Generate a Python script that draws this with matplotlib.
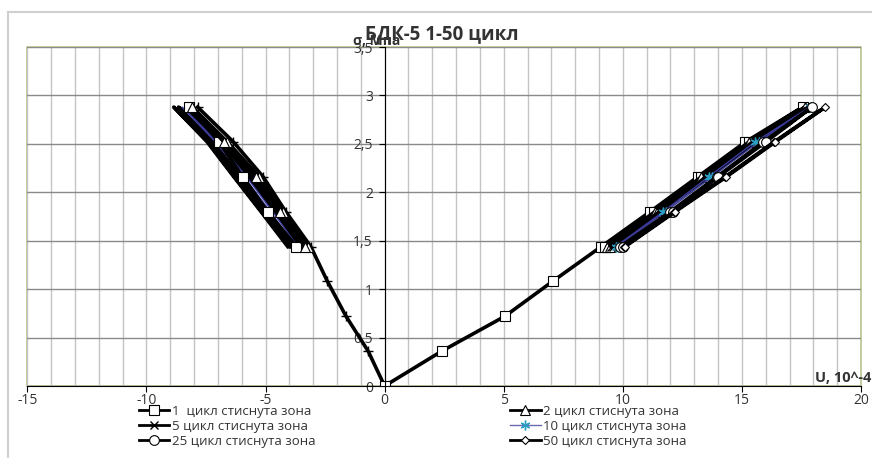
"""BDK-5 cycles 1-50 stress-strain chart"""
import matplotlib
matplotlib.use("Agg")
import matplotlib.pyplot as plt
from matplotlib.ticker import MultipleLocator, FuncFormatter
from matplotlib.patches import Rectangle
from matplotlib.lines import Line2D

plt.rcParams['font.family'] = ['Open Sans', 'DejaVu Sans']
plt.rcParams['axes.unicode_minus'] = False

# stress levels, MPa
s_load = [0, 0.36, 0.72, 1.08, 1.44, 1.8, 2.16, 2.52, 2.88]
s_unload = [2.88, 2.52, 2.16, 1.8, 1.44]
s_loop = [1.44, 1.8, 2.16, 2.52, 2.88, 2.52, 2.16, 1.8, 1.44]

# right branch, strain U (10^-4)
c1_right_x = [0, 2.4, 5.05, 7.05, 9.1, 11.15, 13.15, 15.15, 17.55, 15.3, 13.3, 11.3, 9.25]
c2_right_x = [9.35, 11.35, 13.3, 15.3, 17.65, 15.45, 13.45, 11.45, 9.45]
c5_right_x = [9.5, 11.55, 13.5, 15.45, 17.8, 15.6, 13.6, 11.6, 9.6]
c10_right_x = [9.7, 11.7, 13.6, 15.55, 17.85, 15.7, 13.75, 11.8, 9.8]
c25_right_x = [9.9, 12.0, 13.95, 15.9, 17.95, 16.0, 14.0, 12.1, 10.0]
c50_right_x = [10.05, 12.15, 14.3, 16.35, 18.5, 16.4, 14.35, 12.2, 10.1]

# left branch
c1_left_load_x = [0, -0.69, -1.62, -2.4, -3.1, -4.15, -5.1, -6.35, -7.85]
c1_left_unload_x = [-8.2, -6.95, -5.96, -4.91, -3.71]
c2_left_x = [-3.22, -4.28, -5.26, -6.6, -8.08, -6.75, -5.4, -4.4, -3.35]
c5_left_x = [-3.45, -4.5, -5.55, -6.8, -8.35, -6.95, -5.7, -4.6, -3.55]
c10_left_x = [-3.65, -4.7, -5.8, -7.0, -8.5, -7.1, -5.9, -4.8, -3.75]
c25_left_x = [-3.85, -4.95, -6.05, -7.2, -8.65, -7.3, -6.15, -5.0, -3.95]
c50_left_x = [-4.0, -5.15, -6.3, -7.4, -8.85, -7.45, -6.33, -5.19, -4.07]

labels = ['1  цикл стиснута зона', '2 цикл стиснута зона', '5 цикл стиснута зона',
          '10 цикл стиснута зона', '25 цикл стиснута зона', '50 цикл стиснута зона']

fig = plt.figure(figsize=(8.72, 4.58), dpi=100)
ax = fig.add_axes([27.3 / 872, 1 - 386 / 458, (861 - 27.3) / 872, (386 - 47) / 458])

blk = dict(color='black', lw=2.6)
mk = dict(markerfacecolor='white', markeredgecolor='black', markeredgewidth=0.8)
blue = dict(color='#3a3a9a', lw=1)

# left side
ax.plot(c1_left_load_x, s_load, marker='+', ms=7, markeredgecolor='black', **blk)
ax.plot(c5_left_x, s_loop, **blk)
ax.plot(c25_left_x, s_loop, **blk)
ax.plot(c50_left_x, s_loop, **blk)
ax.plot(c10_left_x, s_loop, **blue)
ax.plot(c1_left_unload_x, s_unload, marker='s', ms=6.5, **mk, **blk)
ax.plot(c2_left_x, s_loop, marker='^', ms=7, **mk, **blk)

# right side
ax.plot(c1_right_x, s_load + s_unload[1:], marker='s', ms=6.5, **mk, **blk)
ax.plot(c2_right_x, s_loop, marker='^', ms=7, **mk, **blk)
ax.plot(c5_right_x, s_loop, marker='x', ms=6, markeredgecolor='black', **blk)
ax.plot(c10_right_x, s_loop, marker=(6, 2, 0), ms=7,
        markeredgecolor='#2a9ec0', markeredgewidth=1, **blue)
ax.plot(c25_right_x, s_loop, marker='o', ms=7, **mk, **blk)
ax.plot(c50_right_x, s_loop, marker='D', ms=4.5, **mk, **blk)

ax.set_xlim(-15, 20)
ax.set_ylim(0, 3.5)
ax.xaxis.set_major_locator(MultipleLocator(5))
ax.xaxis.set_minor_locator(MultipleLocator(1))
ax.yaxis.set_major_locator(MultipleLocator(0.5))
ax.grid(True, which='minor', axis='x', color='#c4c4c4', lw=1)
ax.grid(True, which='major', axis='x', color='#c4c4c4', lw=1)
ax.grid(True, which='major', axis='y', color='#8a8a8a', lw=1)
ax.set_axisbelow(True)
ax.tick_params(axis='x', which='minor', length=0)
ax.tick_params(axis='x', which='major', length=4, direction='out', labelsize=10,
               pad=1, labelcolor='#333333')
ax.tick_params(axis='y', length=4.5, direction='out', labelsize=10, pad=4,
               labelcolor='#333333')
ax.yaxis.set_major_formatter(FuncFormatter(lambda v, p: ('%g' % v).replace('.', ',')))

for side in ['top', 'right']:
    ax.spines[side].set_visible(False)
ax.spines['left'].set_position(('data', 0))
ax.spines['left'].set_color('black')
ax.spines['bottom'].set_color('black')
ax.add_patch(Rectangle((0, 0), 1, 1, transform=ax.transAxes, fill=False,
                       edgecolor='#b5c58a', lw=1.2, zorder=0.5, clip_on=False))

fig.text(442 / 872, 1 - 34 / 458, 'БДК-5 1-50 цикл', ha='center', va='center',
         fontsize=13.5, fontweight='bold', color='#333333')
fig.text(353 / 872, 1 - 41 / 458, 'σ, Мпа', ha='left', va='center', fontsize=10,
         fontweight='bold', color='#333333')
fig.text(871 / 872, 1 - 378 / 458, 'U, 10^-4', ha='right', va='center', fontsize=10.5,
         fontweight='bold', color='#333333')

# outer chart frame
fig.add_artist(Line2D([8 / 872, 8 / 872], [0, 1 - 12 / 458], transform=fig.transFigure,
                      color='#d0d0d0', lw=1.5))
fig.add_artist(Line2D([8 / 872, 1], [1 - 12 / 458, 1 - 12 / 458], transform=fig.transFigure,
                      color='#d0d0d0', lw=1.5))

hl = dict(color='black', lw=2)
h1 = Line2D([], [], marker='s', ms=6.5, **mk, **hl)
h2 = Line2D([], [], marker='^', ms=7, **mk, **hl)
h5 = Line2D([], [], marker='x', ms=6, markeredgecolor='black', **hl)
h10 = Line2D([], [], color='#6a6ab0', lw=1, marker=(6, 2, 0), ms=7,
             markeredgecolor='#2a9ec0', markeredgewidth=1)
h25 = Line2D([], [], marker='o', ms=7, **mk, **hl)
h50 = Line2D([], [], marker='D', ms=4.5, **mk, **hl)
# rows: (1, 2), (5, 10), (25, 50)
handles = [h1, h5, h25, h2, h10, h50]
leg_labels = [labels[0], labels[2], labels[4], labels[1], labels[3], labels[5]]
fig.legend(handles, leg_labels, loc='upper left', bbox_to_anchor=(139 / 872, 1 - 405 / 458),
           ncol=2, frameon=False, fontsize=9.5, handlelength=2.3, handletextpad=0.2,
           labelspacing=0.15, columnspacing=14.75, borderpad=0, borderaxespad=0,
           labelcolor='#333333')

fig.savefig('out.png', dpi=100)
